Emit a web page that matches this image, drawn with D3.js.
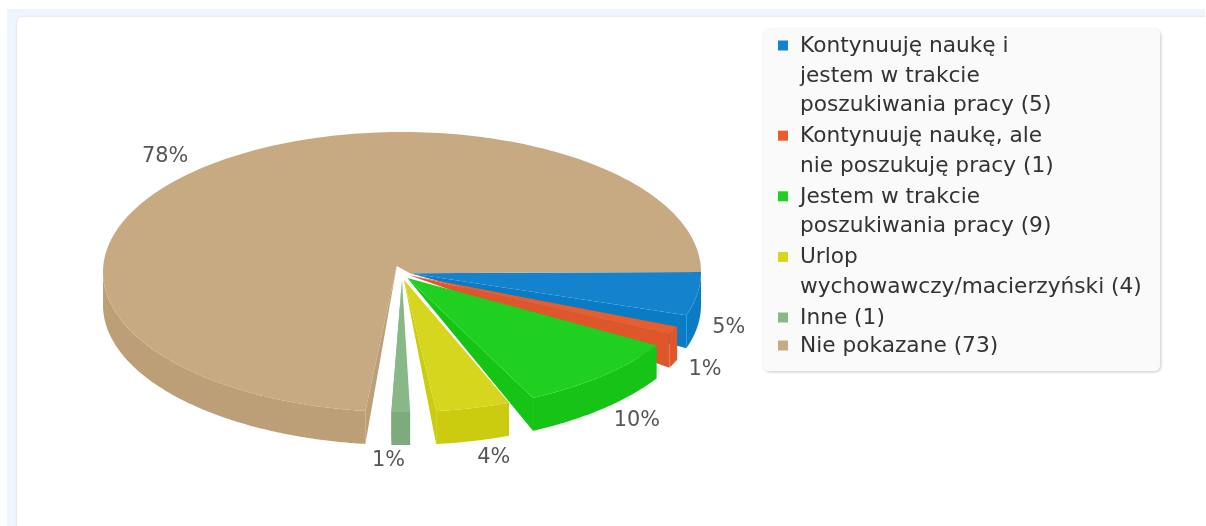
<!DOCTYPE html>
<html>
<head>
<meta charset="utf-8">
<script src="https://cdnjs.cloudflare.com/ajax/libs/d3/7.8.5/d3.min.js"></script>
<style>
html, body { margin: 0; padding: 0; background: #fff; overflow: hidden; }
svg { display: block; filter: blur(0.4px); }
text { font-family: "DejaVu Sans", sans-serif; }
</style>
</head>
<body>
<div id="chart"></div>
<script>
const categories = ["Kontynuuję naukę i|jestem w trakcie|poszukiwania pracy", "Kontynuuję naukę, ale|nie poszukuję pracy", "Jestem w trakcie|poszukiwania pracy", "Urlop|wychowawczy/macierzyński", "Inne", "Nie pokazane"];
const values = [5, 1, 9, 4, 1, 73];
const percentLabels = ["5%", "1%", "10%", "4%", "1%", "78%"];
const topColors = ["#1482cc", "#e85c2e", "#20d020", "#d6d61e", "#88b888", "#c8aa82"];
const wallColors = ["#0a7cc6", "#de5629", "#16c416", "#cbcb10", "#7eab7e", "#bc9f76"];

const width = 1206, height = 526;
const cx = 402, cy = 272, rx = 299, ry = 140, depth = 33, explode = 8;
const gap = 4.93 * Math.PI / 180;
const tau = 2 * Math.PI;

const svg = d3.select("#chart").append("svg")
    .attr("width", width)
    .attr("height", height);

const defs = svg.append("defs");
const shadow = defs.append("filter").attr("id", "soft").attr("x", "-5%").attr("y", "-5%").attr("width", "110%").attr("height", "110%");
shadow.append("feDropShadow").attr("dx", 1).attr("dy", 1).attr("stdDeviation", 1.5).attr("flood-color", "#000").attr("flood-opacity", 0.22);
const cardShadow = defs.append("filter").attr("id", "cardSoft").attr("x", "-2%").attr("y", "-2%").attr("width", "104%").attr("height", "104%");
cardShadow.append("feDropShadow").attr("dx", 0).attr("dy", 0).attr("stdDeviation", 1.2).attr("flood-color", "#000").attr("flood-opacity", 0.12);

// page background and card
svg.append("rect").attr("x", 7).attr("y", 9).attr("width", 1198).attr("height", 517).attr("fill", "#eef5fd");
svg.append("rect").attr("x", 17).attr("y", 17).attr("width", 1230).attr("height", 560).attr("rx", 6)
    .attr("fill", "#fff").attr("filter", "url(#cardSoft)");

// pie angles, 0 = pointing right, clockwise on screen
// d3.pie leaves a gap after the last slice too, stretch so the big one closes the circle
const stretch = tau / (tau - gap);
const pie = d3.pie().sort(null).padAngle(gap);
const slices = pie(values).map((d, i) => {
    const a0 = d.startAngle * stretch, a1 = (d.endAngle - d.padAngle) * stretch, mid = (a0 + a1) / 2;
    return { i, a0, a1, mid, apex: [cx + explode * Math.cos(mid), cy + explode * Math.sin(mid)] };
});
const lastIndex = slices.length - 1;

const rim = (a, dy = 0) => [cx + rx * Math.cos(a), cy + ry * Math.sin(a) + dy];
const line = d3.line();
const sample = (a0, a1) => d3.range(0, 201).map(k => a0 + (a1 - a0) * k / 200);

const g = svg.append("g");

// cut walls, narrowing to nothing at the apex (the big slice shows its start side)
g.selectAll("path.cut")
    .data(slices)
    .enter().append("path")
    .attr("class", "cut")
    .attr("fill", d => wallColors[d.i])
    .attr("d", d => {
        const a = d.i === lastIndex ? d.a0 : d.a1;
        return line([d.apex, rim(a), rim(a, depth)]) + "Z";
    });

// outer walls, only the front half of the ellipse shows
g.selectAll("path.outer")
    .data(slices.filter(d => d.a0 < Math.PI))
    .enter().append("path")
    .attr("class", "outer")
    .attr("fill", d => wallColors[d.i])
    .attr("d", d => {
        const angles = sample(d.a0, Math.min(d.a1, Math.PI));
        return line(angles.map(a => rim(a)).concat(angles.slice().reverse().map(a => rim(a, depth)))) + "Z";
    });

// top surfaces
g.selectAll("path.top")
    .data(slices)
    .enter().append("path")
    .attr("class", "top")
    .attr("fill", d => topColors[d.i])
    .attr("d", d => {
        const pts = [d.apex].concat(sample(d.a0, d.a1).map(a => rim(a)));
        // the big slice closes up against the first one
        if (d.i === lastIndex) pts.push(slices[0].apex);
        return line(pts) + "Z";
    });

// percent labels: placed outside the rim along the mid angle, then nudged
const labelNudge = [[-4, -2], [-1, 0], [10, 3], [12, 5], [-12, 4], [-15, -5]];
g.selectAll("text.pct")
    .data(slices)
    .enter().append("text")
    .attr("class", "pct")
    .attr("text-anchor", "middle")
    .attr("font-size", 20.8)
    .attr("fill", "#555")
    .attr("x", d => cx + 335 * Math.cos(d.mid) + labelNudge[d.i][0])
    .attr("y", d => cy + 150 * Math.sin(d.mid) + (d.mid < Math.PI ? depth : 0) + 7 + labelNudge[d.i][1])
    .text(d => percentLabels[d.i]);

// legend
const legend = svg.append("g");
legend.append("rect")
    .attr("x", 763).attr("y", 29).attr("width", 397).attr("height", 342).attr("rx", 6)
    .attr("fill", "#fafafa").attr("filter", "url(#soft)");

let baseline = 52;
categories.forEach((name, i) => {
    const lines = name.split("|");
    lines[lines.length - 1] += " (" + values[i] + ")";
    legend.append("rect")
        .attr("x", 778).attr("y", baseline - 11.5).attr("width", 10).attr("height", 10)
        .attr("fill", topColors[i]);
    legend.selectAll(null)
        .data(lines)
        .enter().append("text")
        .attr("x", 800)
        .attr("y", (d, k) => baseline + k * 29.6)
        .attr("font-size", 21.7)
        .attr("fill", "#333")
        .text(d => d);
    // single line entries sit a bit tighter at the end of the list
    baseline += (lines.length - 1) * 29.6 + (i === 4 ? 28 : 31);
});
</script>
</body>
</html>
